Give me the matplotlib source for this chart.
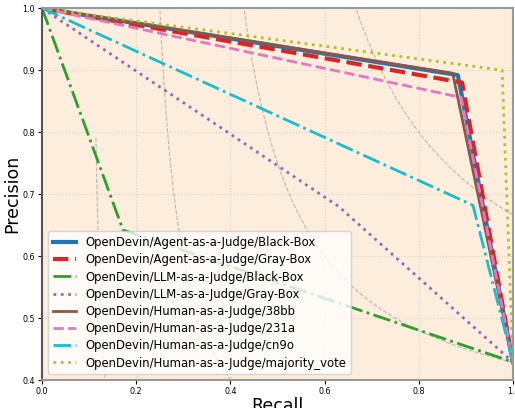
import matplotlib
matplotlib.use("Agg")
import matplotlib.pyplot as plt
import numpy as np

# PR points per method: (0, 1) -> corner -> (1, base)
labels = [
    "OpenDevin/Agent-as-a-Judge/Black-Box",
    "OpenDevin/Agent-as-a-Judge/Gray-Box",
    "OpenDevin/LLM-as-a-Judge/Black-Box",
    "OpenDevin/LLM-as-a-Judge/Gray-Box",
    "OpenDevin/Human-as-a-Judge/38bb",
    "OpenDevin/Human-as-a-Judge/231a",
    "OpenDevin/Human-as-a-Judge/cn9o",
    "OpenDevin/Human-as-a-Judge/majority_vote",
]
recalls = [
    [0.0, 0.883, 1.0],
    [0.0, 0.892, 1.0],
    [0.0, 0.172, 1.0],
    [0.0, 0.63, 1.0],
    [0.0, 0.872, 1.0],
    [0.0, 0.89, 1.0],
    [0.0, 0.915, 1.0],
    [0.0, 0.977, 1.0],
]
precisions = [
    [1.0, 0.892, 0.429],
    [1.0, 0.880, 0.429],
    [1.0, 0.642, 0.429],
    [1.0, 0.680, 0.429],
    [1.0, 0.895, 0.429],
    [1.0, 0.856, 0.429],
    [1.0, 0.682, 0.429],
    [1.0, 0.900, 0.429],
]
colors = ["tab:blue", "tab:red", "tab:green", "tab:purple",
          "tab:brown", "tab:pink", "tab:cyan", "tab:olive"]
styles = ["-", "--", "-.", ":", "-", "--", "-.", ":"]
widths = [3, 3, 2, 2, 2, 2, 2, 2]
f_scores = [0.2, 0.4, 0.6, 0.8]

fig = plt.figure(figsize=(5.15, 4.08), dpi=100)
ax = fig.add_axes([0.0816, 0.0686, 0.9144, 0.9114])
ax.set_facecolor("#fdeddc")

# iso-F1 curves
for f in f_scores:
    x = np.linspace(0.01, 1, 200)
    y = f * x / (2 * x - f)
    m = (y >= 0) & (y <= 1.05)
    ax.plot(x[m], y[m], color="gray", linestyle="--", linewidth=0.8, alpha=0.5)

for i in range(len(labels)):
    ax.plot(recalls[i], precisions[i], color=colors[i], linestyle=styles[i],
            linewidth=widths[i], label=labels[i])

ax.set_xlim(0, 1)
ax.set_ylim(0.4, 1.0)
ax.set_xlabel("Recall", fontsize=12.5, labelpad=1)
ax.set_ylabel("Precision", fontsize=12.5, labelpad=1)
ax.tick_params(labelsize=5.8, length=3, pad=2)
ax.grid(True, linestyle=":", color="#d8c8bc", linewidth=0.8, alpha=0.8)
for s in ax.spines.values():
    s.set_color("#999999")
    s.set_linewidth(1.5)
ax.spines["left"].set_color("#555555")
ax.legend(loc="lower left", fontsize=8.4, framealpha=0.8, labelspacing=0.36)

fig.savefig("out.png", dpi=100)
